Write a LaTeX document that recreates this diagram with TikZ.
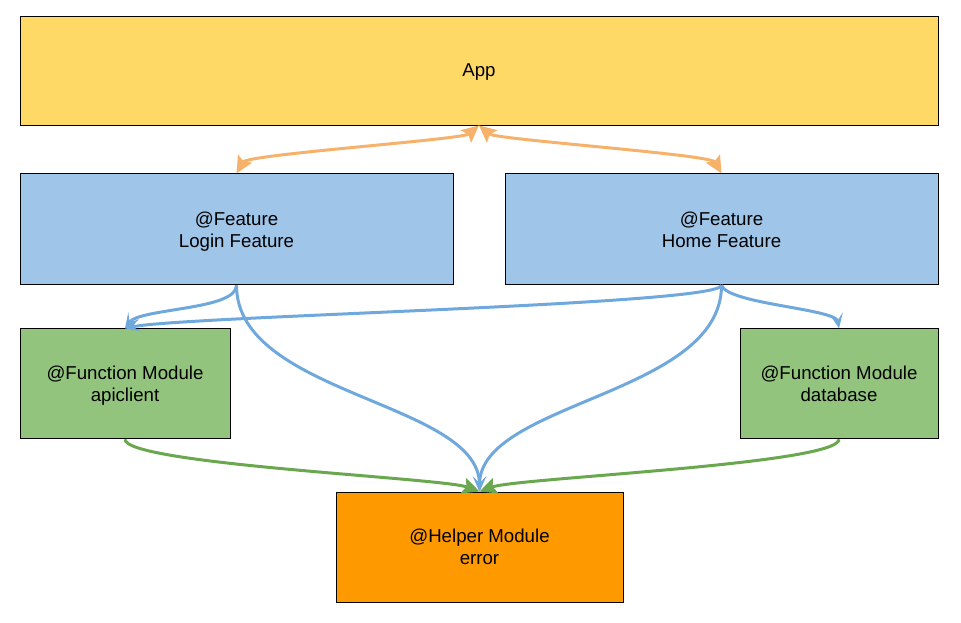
\documentclass[tikz,border=0pt]{standalone}
\usepackage{fontspec}
\setmainfont{Liberation Sans}
\usetikzlibrary{positioning,arrows.meta}
\definecolor{appfill}{HTML}{FFD966}
\definecolor{featfill}{HTML}{9FC5E8}
\definecolor{funcfill}{HTML}{93C47D}
\definecolor{helpfill}{HTML}{FF9900}
\definecolor{appline}{HTML}{F6B26B}
\definecolor{featline}{HTML}{6FA8DC}
\definecolor{funcline}{HTML}{6AA84F}

\begin{document}
\begin{tikzpicture}[x=1pt, y=1pt,
	font=\fontsize{18.67}{22}\selectfont,
	box/.style = {rectangle, draw=black, line width=0.9pt, align=center, inner sep=0pt, text depth=-2pt},
	appbox/.style = {box, fill=appfill, minimum width=918pt, minimum height=109pt},
	featbox/.style = {box, fill=featfill, minimum width=433pt, minimum height=111pt},
	funcbox/.style = {box, fill=funcfill, minimum height=110pt},
	helpbox/.style = {box, fill=helpfill, minimum width=287pt, minimum height=110pt},
	applink/.style = {appline, line width=3pt, arrows={Stealth[length=17pt,width=16pt,inset=3pt]-Stealth[length=17pt,width=16pt,inset=3pt]}},
	featlink/.style = {featline, line width=3pt, arrows={-Stealth[length=15pt,width=13pt,inset=7pt]}},
	funclink/.style = {funcline, line width=3pt, arrows={-Stealth[length=17pt,width=16pt,inset=3pt]}},
]
\useasboundingbox (0,0) rectangle (961,-623);

\node[appbox] (app) at (479,-70.5) {App};
\node[featbox] (login) [below=48pt of app.south west, anchor=north west] {@Feature\\Login Feature};
\node[featbox] (home) [below=48pt of app.south east, anchor=north east] {@Feature\\Home Feature};
\node[funcbox, minimum width=210pt] (apiclient) [below=43pt of login.south west, anchor=north west] {@Function Module\\apiclient};
\node[funcbox, minimum width=198pt] (database) [below=43pt of home.south east, anchor=north east] {@Function Module\\database};
\node[helpbox] (error) at (479.5,-547) {@Helper Module\\error};

\draw[applink] (login.north) .. controls +(60:22) and +(-140:22) .. (app.south);
\draw[applink] (home.north) .. controls +(120:22) and +(-40:22) .. (app.south);

\draw[featlink] (login.south) .. controls +(down:25) and +(55:25) .. (apiclient.north);
\draw[featlink] (login.south) .. controls +(down:110) and +(up:90) .. (error.north);
\draw[featlink] (home.south) .. controls +(-100:20) and +(12:60) .. (apiclient.north);
\draw[featlink] (home.south) .. controls +(down:110) and +(up:90) .. (error.north);
\draw[featlink] (home.south) .. controls +(-70:20) and +(100:20) .. (database.north);

\draw[funclink] (apiclient.south) .. controls +(down:25) and +(160:40) .. (error.north);
\draw[funclink] (database.south) .. controls +(down:25) and +(20:40) .. (error.north);
\end{tikzpicture}
\end{document}
